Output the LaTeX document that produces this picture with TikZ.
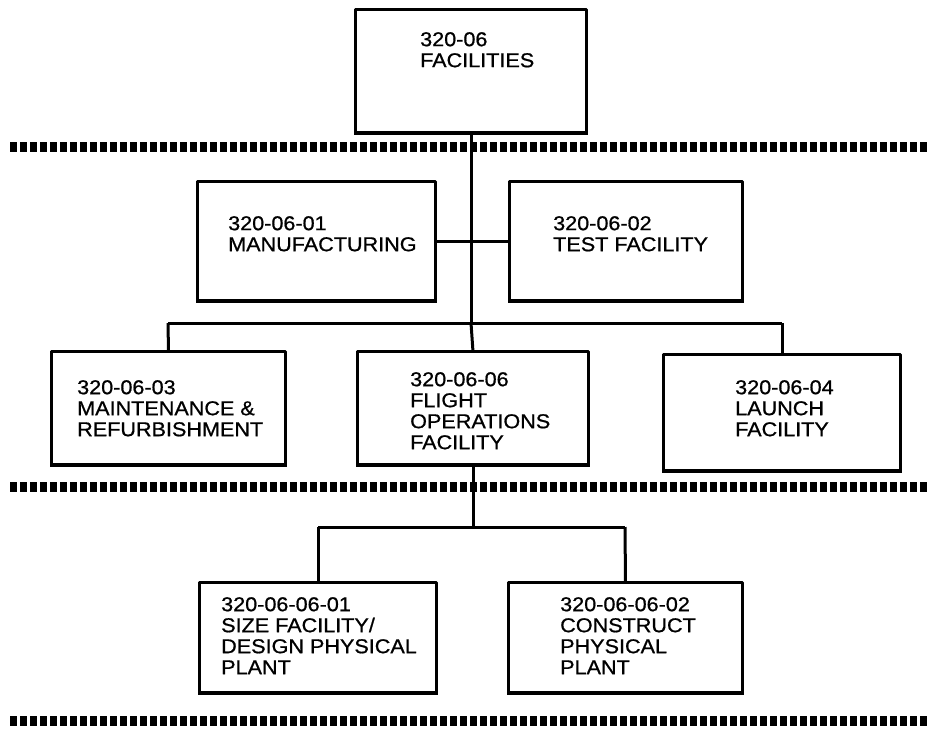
\documentclass[tikz,border=0pt]{standalone}
\usepackage{fontspec}
\setmainfont{Liberation Sans}[FakeStretch=1.08,FakeBold=0.8]
\begin{document}
\begin{tikzpicture}[x=1pt,y=-1pt,
  box/.style={draw=black,line width=3pt,fill=white,line join=round},
  lbl/.style={anchor=north west,inner sep=0pt,align=left,font=\fontsize{20}{21}\selectfont},
  link/.style={draw=black,line width=3pt},
  sepline/.style={draw=black,line width=10pt,dash pattern=on 7pt off 3pt}]
\useasboundingbox (0,0) rectangle (928,731);
% separators
\draw[sepline] (10,147) -- (928,147);
\draw[sepline] (10,487) -- (928,487);
\draw[sepline] (10,721) -- (928,721);
% connector junctions
\coordinate (r3l) at (168,323);
\coordinate (r3m) at (471,323);
\coordinate (r3r) at (782,323);
\coordinate (r4l) at (318,527);
\coordinate (r4m) at (473,527);
\coordinate (r4r) at (625,527);
% boxes
\node[inner sep=0pt, minimum width=230pt, minimum height=122pt] (top) at (471,71) {};
\node[inner sep=0pt, minimum width=237pt, minimum height=118pt] (mfg) at (316.5,241) {};
\node[inner sep=0pt, minimum width=232pt, minimum height=118pt] (test) at (626,241) {};
\node[inner sep=0pt, minimum width=233pt, minimum height=112pt] (maint) at (168.5,408) {};
\node[inner sep=0pt, minimum width=230pt, minimum height=112pt] (flight) at (473,408) {};
\node[inner sep=0pt, minimum width=236pt, minimum height=115pt] (launch) at (782,412.5) {};
\node[inner sep=0pt, minimum width=236pt, minimum height=109pt] (size) at (318,637.5) {};
\node[inner sep=0pt, minimum width=233pt, minimum height=109pt] (constr) at (625.5,637.5) {};
% connectors
\draw[link] (top.south) -- (r3m);
\draw[link] (mfg.east) -- (test.west);
\draw[link] (r3l) -- (r3r);
\draw[link] (r3l) -- (maint.north);
\draw[link] (r3m) -- (flight.north);
\draw[link] (r3r) -- (launch.north);
\draw[link] (flight.south) -- (r4m);
\draw[link] (r4l) -- (r4r);
\draw[link] (r4l) -- (size.north);
\draw[link] (r4r) -- (constr.north);
% box outlines
\foreach \n in {top,mfg,test,maint,flight,launch,size,constr}{
  \draw[box] (\n.north west) rectangle (\n.south east);
  \draw[line width=2.5pt] ([xshift=-1.5pt,yshift=-1.5pt]\n.south west) -- ([xshift=1.5pt,yshift=-1.5pt]\n.south east);
}
% labels
\node[lbl] (toplbl) at (420,32) {320-06\\FACILITIES};
\node[lbl] (mfglbl) at (228,216) {320-06-01\\MANUFACTURING};
\node[lbl] (testlbl) at (553,216) {320-06-02\\TEST FACILITY};
\node[lbl] (maintlbl) at (77,380) {320-06-03\\MAINTENANCE \&\\REFURBISHMENT};
\node[lbl] (flightlbl) at (410,372) {320-06-06\\FLIGHT\\OPERATIONS\\FACILITY};
\node[lbl] (launchlbl) at (735,380) {320-06-04\\LAUNCH\\FACILITY};
\node[lbl] (sizelbl) at (221,597) {320-06-06-01\\SIZE FACILITY/\\DESIGN PHYSICAL\\PLANT};
\node[lbl] (constrlbl) at (560,597) {320-06-06-02\\CONSTRUCT\\PHYSICAL\\PLANT};
\end{tikzpicture}
\end{document}
